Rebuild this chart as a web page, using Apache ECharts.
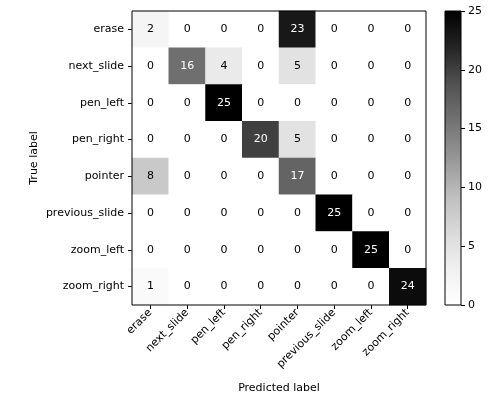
<!DOCTYPE html>
<html><head><meta charset="utf-8">
<script src="https://cdn.jsdelivr.net/npm/echarts@6/dist/echarts.min.js"></script>
<style>html,body{margin:0;padding:0;background:#fff}#c{width:500px;height:400px}</style>
</head><body><div id="c"></div>
<script>
const labels = ['erase','next_slide','pen_left','pen_right','pointer','previous_slide','zoom_left','zoom_right'];
const matrix = [
  [2,0,0,0,23,0,0,0],
  [0,16,4,0,5,0,0,0],
  [0,0,25,0,0,0,0,0],
  [0,0,0,20,5,0,0,0],
  [8,0,0,0,17,0,0,0],
  [0,0,0,0,0,25,0,0],
  [0,0,0,0,0,0,25,0],
  [1,0,0,0,0,0,0,24]
];
const cbTicks = [0,5,10,15,20,25];
const vmin = 0, vmax = 25;
const greys = ['#ffffff','#f0f0f0','#d9d9d9','#bdbdbd','#969696','#737373','#525252','#252525','#000000'];

const data = [];
matrix.forEach((row,i)=>row.forEach((v,j)=>data.push([j,i,v])));
const thresh = (vmin+vmax)/2;
const font = 'DejaVu Sans';
const fs = 11;
const chart = echarts.init(document.getElementById('c'));
chart.setOption({
  backgroundColor:'#fff',
  animation:false,
  textStyle:{fontFamily:font},
  grid:[
    {left:132,top:11,width:294,height:294,show:true,borderColor:'#000',borderWidth:1,z:5},
    {left:445,top:11,width:16,height:294,show:true,borderColor:'#000',borderWidth:1,z:5}
  ],
  xAxis:[
    {type:'category',data:labels,gridIndex:0,name:'Predicted label',nameLocation:'middle',nameGap:78,
     nameMoveOverlap:false,
     nameTextStyle:{fontSize:fs,color:'#000',fontFamily:font},
     axisLine:{show:false},axisTick:{show:true,alignWithLabel:true,length:4,lineStyle:{color:'#000'}},
     axisLabel:{rotate:45,fontSize:fs,color:'#000',fontFamily:font,margin:6,interval:0},splitLine:{show:false}},
    {type:'category',data:['c'],gridIndex:1,show:false}
  ],
  yAxis:[
    {type:'category',data:labels,inverse:true,gridIndex:0,name:'True label',nameLocation:'middle',nameGap:92,
     nameMoveOverlap:false,
     nameTextStyle:{fontSize:fs,color:'#000',fontFamily:font},
     axisLine:{show:false},axisTick:{show:true,alignWithLabel:true,length:4,lineStyle:{color:'#000'}},
     axisLabel:{fontSize:fs,color:'#000',fontFamily:font,margin:8,interval:0},splitLine:{show:false}},
    {type:'value',gridIndex:1,min:vmin,max:vmax,interval:5,position:'right',
     axisLine:{show:false},axisTick:{show:true,length:4,lineStyle:{color:'#000'}},
     axisLabel:{fontSize:fs,color:'#000',fontFamily:font,margin:7},splitLine:{show:false}}
  ],
  visualMap:{show:false,min:vmin,max:vmax,seriesIndex:0,inRange:{color:greys}},
  series:[
    {type:'heatmap',xAxisIndex:0,yAxisIndex:0,data:data,
     label:{show:true,fontSize:fs,fontFamily:font,formatter:p=>String(p.value[2])},
     itemStyle:{borderWidth:0}
    },
    {type:'bar',xAxisIndex:1,yAxisIndex:1,data:[vmax],barWidth:'100%',silent:true,
     itemStyle:{color:new echarts.graphic.LinearGradient(0,1,0,0,greys.map((c,i)=>({offset:i/(greys.length-1),color:c})))}}
  ]
});
chart.setOption({series:[{data:data.map(d=>({value:d,label:{color:d[2]>thresh?'#ffffff':'#000000'}}))}]});
</script></body></html>
